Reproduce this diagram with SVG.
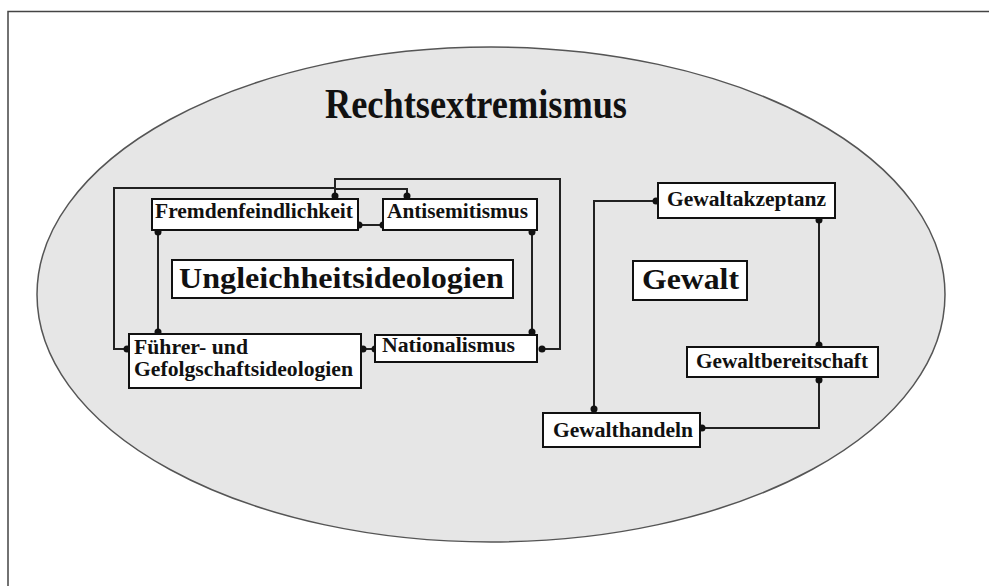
<svg xmlns="http://www.w3.org/2000/svg" width="989" height="586" viewBox="0 0 989 586">
<style>
text{font-family:"Liberation Serif","Times New Roman",serif;font-weight:bold;fill:#111}
.box{fill:#fff;stroke:#111;stroke-width:2}
.s{font-size:20px}
.m{font-size:30px}
.c{fill:none;stroke:#222;stroke-width:2}
.d{fill:#111}
</style>
<rect width="989" height="586" fill="#fff"/>
<path d="M8 586 V11.5 H989" fill="none" stroke="#444" stroke-width="1.5"/>
<g id="rechtsextremismus">
<ellipse cx="491" cy="294.5" rx="454" ry="247.5" fill="#e6e6e6" stroke="#555" stroke-width="1.5"/>
<text x="325" y="118" font-size="42" textLength="302" lengthAdjust="spacingAndGlyphs">Rechtsextremismus</text>
</g>
<g id="connectors">
<path class="c" d="M127 349 H114 V188 H335"/>
<path class="c" d="M335 196 V179 H560 V349 H542"/>
<path class="c" d="M335 189 H407 V196"/>
<path class="c" d="M359 225 H383"/>
<path class="c" d="M158 232 V332"/>
<path class="c" d="M532 232 V332"/>
<path class="c" d="M363 349 H375"/>
<path class="c" d="M656 201 H594 V409"/>
<path class="c" d="M819 220 V345"/>
<path class="c" d="M819 380 V428 H702"/>
<g class="d">
<circle cx="127" cy="349" r="3.5"/>
<circle cx="335" cy="196" r="3.5"/>
<circle cx="407" cy="196" r="3.5"/>
<circle cx="542" cy="349" r="3.5"/>
<circle cx="359" cy="225" r="3.5"/>
<circle cx="383" cy="225" r="3.5"/>
<circle cx="158" cy="232" r="3.5"/>
<circle cx="158" cy="332" r="3.5"/>
<circle cx="532" cy="232" r="3.5"/>
<circle cx="532" cy="332" r="3.5"/>
<circle cx="363" cy="349" r="3.5"/>
<circle cx="375" cy="349" r="3.5"/>
<circle cx="656" cy="201" r="3.5"/>
<circle cx="594" cy="409" r="3.5"/>
<circle cx="819" cy="220" r="3.5"/>
<circle cx="819" cy="345" r="3.5"/>
<circle cx="819" cy="380" r="3.5"/>
<circle cx="702" cy="428" r="3.5"/>
</g>
</g>
<g id="fremdenfeindlichkeit">
<rect class="box" x="152" y="199" width="206" height="31"/>
<text class="s" x="155" y="218" textLength="198" lengthAdjust="spacingAndGlyphs">Fremdenfeindlichkeit</text>
</g>
<g id="antisemitismus">
<rect class="box" x="383" y="199" width="154" height="31"/>
<text class="s" x="387" y="218" textLength="141" lengthAdjust="spacingAndGlyphs">Antisemitismus</text>
</g>
<g id="ungleichheitsideologien">
<rect class="box" x="172" y="260" width="341" height="38"/>
<text class="m" x="179" y="288" textLength="325" lengthAdjust="spacingAndGlyphs">Ungleichheitsideologien</text>
</g>
<g id="fuehrer">
<rect class="box" x="129" y="334" width="232" height="54"/>
<text class="s" x="134" y="354" textLength="114" lengthAdjust="spacingAndGlyphs">Führer- und</text>
<text class="s" x="134" y="376" textLength="219" lengthAdjust="spacingAndGlyphs">Gefolgschaftsideologien</text>
</g>
<g id="nationalismus">
<rect class="box" x="375" y="335" width="162" height="27"/>
<text class="s" x="382" y="352" textLength="133" lengthAdjust="spacingAndGlyphs">Nationalismus</text>
</g>
<g id="gewaltakzeptanz">
<rect class="box" x="658" y="183" width="177" height="35"/>
<text class="s" x="667" y="206" textLength="159" lengthAdjust="spacingAndGlyphs">Gewaltakzeptanz</text>
</g>
<g id="gewalt">
<rect class="box" x="633" y="261" width="114" height="39"/>
<text class="m" x="642" y="289" textLength="97" lengthAdjust="spacingAndGlyphs">Gewalt</text>
</g>
<g id="gewaltbereitschaft">
<rect class="box" x="687" y="347" width="191" height="30"/>
<text class="s" x="696" y="368" textLength="172" lengthAdjust="spacingAndGlyphs">Gewaltbereitschaft</text>
</g>
<g id="gewalthandeln">
<rect class="box" x="543" y="413" width="157" height="34"/>
<text class="s" x="553" y="437" textLength="140" lengthAdjust="spacingAndGlyphs">Gewalthandeln</text>
</g>
</svg>
